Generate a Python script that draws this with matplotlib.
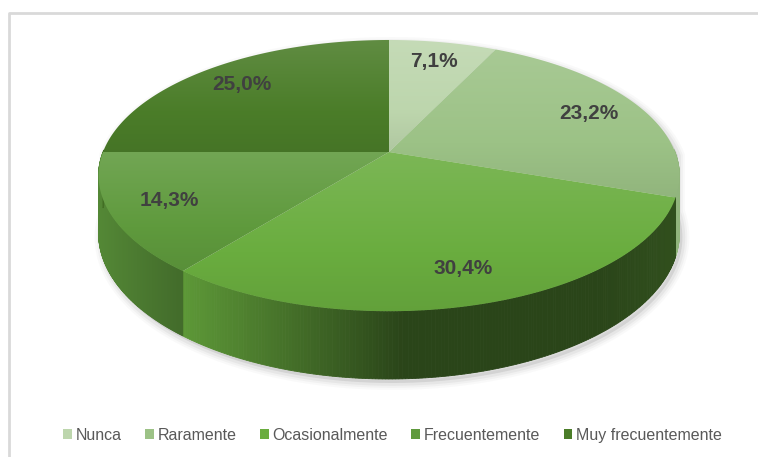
import numpy as np
import matplotlib
matplotlib.use('Agg')
import matplotlib.pyplot as plt
from matplotlib.patches import Polygon, Patch
from matplotlib.colors import to_rgb

plt.rcParams['font.family'] = ['Liberation Sans Narrow', 'Liberation Sans', 'DejaVu Sans']

# data
categories = ['Nunca', 'Raramente', 'Ocasionalmente', 'Frecuentemente', 'Muy frecuentemente']
values = [7.1, 23.2, 30.4, 14.3, 25.0]
colors = ['#bdd6ad', '#9cc286', '#6aad3f', '#5f9a3d', '#4b7d29']

# pie geometry in pixels (simple perspective)
CX, CY = 389, 152
A, B, K, D = 286, 131.5, 0.174, 56
R_LABEL = 0.8


def project(t, r=1.0, bottom=False):
    u = r * np.cos(t)
    v = r * np.sin(t)
    w = 1 + K * v
    x = CX + A * u / w
    y = CY - B * v / w
    if bottom:
        y = y + D / w
    return x, y


def blend(c, g):
    c = np.array(to_rgb(c))
    if g > 0:
        return c + g * (1 - c)
    return c * (1 + g)


fig = plt.figure(figsize=(7.58, 4.57), dpi=100)
ax = fig.add_axes([0, 0, 1, 1])

# angles: start at top, go clockwise
fracs = np.array(values) / sum(values)
cum = np.concatenate([[0], np.cumsum(fracs)])
starts = np.pi / 2 - 2 * np.pi * cum[:-1]
ends = np.pi / 2 - 2 * np.pi * cum[1:]

# soft shadow under the pie
ts = np.linspace(0, 2 * np.pi, 400)
tx, ty = project(ts)
bx, by = project(ts, bottom=True)
back = np.sin(ts) >= 0
sil_x = np.concatenate([tx[back], bx[~back]])
sil_y = np.concatenate([ty[back], by[~back]])
order = np.argsort(np.arctan2(-(sil_y - CY - 20), sil_x - CX))
sil = np.column_stack([sil_x[order], sil_y[order]])
for lw, al in [(10, 0.04), (7, 0.06), (4, 0.09)]:
    ax.add_patch(Polygon(sil + [3, 4], closed=True, facecolor='#7f7f7f', alpha=al,
                         edgecolor='#7f7f7f', linewidth=lw, zorder=1))

# side walls
for i in range(len(values)):
    tt = np.linspace(starts[i], ends[i], 200)
    vis = np.sin(tt) < 0.02
    if not vis.any():
        continue
    tt = tt[vis]
    x0 = project(tt)[0].min()
    for a, b in zip(tt[:-1], tt[1:]):
        xa, ya = project(a)
        xb, yb = project(b)
        xa2, ya2 = project(a, bottom=True)
        xb2, yb2 = project(b, bottom=True)
        xm = (xa + xb) / 2
        f = max(0.88 - 0.0022 * (xm - x0), 0.4) + 0.06 * max(0, (xm - 600) / 80)
        col = np.clip(np.array(to_rgb(colors[i])) * f, 0, 1)
        ax.add_patch(Polygon([[xa, ya], [xb, yb], [xb2, yb2], [xa2, ya2]], closed=True,
                             facecolor=col, edgecolor=col, linewidth=0.6, zorder=2))

# top faces with vertical gradient per slice
for i in range(len(values)):
    tt = np.linspace(starts[i], ends[i], 200)
    px, py = project(tt)
    poly = np.column_stack([np.concatenate([[CX], px]), np.concatenate([[CY], py])])
    patch = Polygon(poly, closed=True, facecolor='none', edgecolor='none', zorder=3)
    ax.add_patch(patch)
    y0, y1 = poly[:, 1].min(), poly[:, 1].max()
    x0, x1 = poly[:, 0].min(), poly[:, 0].max()
    g = np.linspace(0.12, -0.07, 100)
    img = np.array([[blend(colors[i], gi)] for gi in g])
    im = ax.imshow(img, extent=(x0 - 1, x1 + 1, y1 + 1, y0 - 1), aspect='auto',
                   interpolation='bilinear', zorder=3)
    im.set_clip_path(patch)

# percentage labels
for i, v in enumerate(values):
    mid = (starts[i] + ends[i]) / 2
    lx, ly = project(mid, r=R_LABEL)
    ax.text(lx, ly, f'{v:.1f}%'.replace('.', ','), ha='center', va='center',
            fontsize=15, fontweight='bold', color='#404040', zorder=5)

# chart border (only top and left edges are visible)
ax.plot([9, 9, 770], [470, 13, 13], color='#d9d9d9', linewidth=2, zorder=0)

handles = [Patch(facecolor=c, edgecolor='none') for c in colors]
ax.legend(handles, categories, loc='center', bbox_to_anchor=(0.518, 0.048), ncol=5,
          frameon=False, fontsize=11.5, handlelength=0.55, handleheight=0.55,
          handletextpad=0.25, columnspacing=1.45, labelcolor='#595959')

ax.set_xlim(0, 758)
ax.set_ylim(457, 0)
ax.axis('off')
fig.savefig('out.png', dpi=100, facecolor='white')
